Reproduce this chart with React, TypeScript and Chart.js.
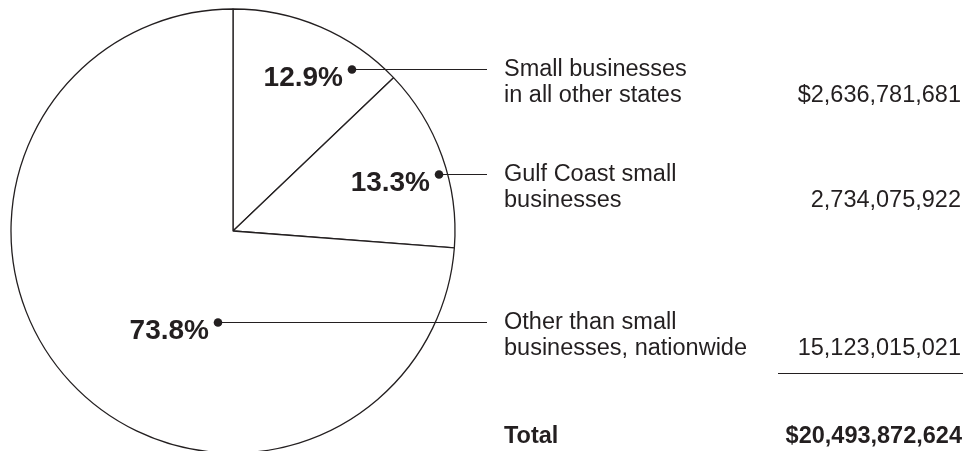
import React, { useEffect, useRef } from "react";
import { Chart, registerables } from "chart.js";

Chart.register(...registerables);

// ---- data ----
const categories = [
  "Small businesses in all other states",
  "Gulf Coast small businesses",
  "Other than small businesses, nationwide",
];
const labelLines = [
  ["Small businesses", "in all other states"],
  ["Gulf Coast small", "businesses"],
  ["Other than small", "businesses, nationwide"],
];
const amounts = [2636781681, 2734075922, 15123015021];
const totalLabel = "Total";

// ---- label anchors (fraction of slice angle, fraction of radius) ----
const anchors = [
  { t: 0.784, r: 0.905 },
  { t: 0.587, r: 0.963 },
  { t: 0.3577, r: 0.415 },
];

const INK = "#231f20";
const FONT = '"Liberation Sans", Arial, Helvetica, sans-serif';
const LEADER_END = 487;
const TEXT_X = 504;
const AMOUNT_RIGHT = 961;

const fmt = (n: number) => n.toLocaleString("en-US");

const labelPlugin = {
  id: "sliceLabels",
  afterDatasetsDraw(chart: any) {
    const ctx = chart.ctx as CanvasRenderingContext2D;
    const meta = chart.getDatasetMeta(0);
    const total = amounts.reduce((a, b) => a + b, 0);
    ctx.save();
    ctx.fillStyle = INK;
    ctx.strokeStyle = INK;
    ctx.lineWidth = 1;
    ctx.textBaseline = "alphabetic";
    let lastY = 0;
    meta.data.forEach((arc: any, i: number) => {
      const p = arc.getProps(["x", "y", "startAngle", "endAngle", "outerRadius"], true);
      const a = p.startAngle + (p.endAngle - p.startAngle) * anchors[i].t;
      const r = p.outerRadius * anchors[i].r;
      const dx = p.x + Math.cos(a) * r;
      const dy = Math.round(p.y + Math.sin(a) * r);
      lastY = dy;
      // leader line
      ctx.beginPath();
      ctx.moveTo(dx, dy + 0.5);
      ctx.lineTo(LEADER_END, dy + 0.5);
      ctx.stroke();
      // dot
      ctx.beginPath();
      ctx.arc(dx, dy + 0.5, 4.3, 0, Math.PI * 2);
      ctx.fill();
      // percentage
      const pct = ((amounts[i] / total) * 100).toFixed(1) + "%";
      ctx.font = `bold 28px ${FONT}`;
      ctx.textAlign = "right";
      ctx.fillText(pct, dx - 9, dy + 17);
      // category label
      ctx.font = `23.5px ${FONT}`;
      ctx.textAlign = "left";
      labelLines[i].forEach((line, k) => {
        ctx.fillText(line, TEXT_X, dy + 7 + k * 26);
      });
      // amount
      ctx.textAlign = "right";
      const amt = (i === 0 ? "$" : "") + fmt(amounts[i]);
      ctx.fillText(amt, AMOUNT_RIGHT, dy + 33);
    });
    // separator and total
    const sepY = lastY + 51;
    ctx.beginPath();
    ctx.moveTo(778, sepY + 0.5);
    ctx.lineTo(963, sepY + 0.5);
    ctx.stroke();
    ctx.font = `bold 23.5px ${FONT}`;
    ctx.textAlign = "left";
    ctx.fillText(totalLabel, TEXT_X, sepY + 70);
    ctx.textAlign = "right";
    ctx.fillText("$" + fmt(total), AMOUNT_RIGHT + 1, sepY + 70);
    ctx.restore();
  },
};

export default function App() {
  const ref = useRef<HTMLCanvasElement | null>(null);
  useEffect(() => {
    if (!ref.current) return;
    const chart = new Chart(ref.current, {
      type: "pie",
      data: {
        labels: categories,
        datasets: [
          {
            data: amounts,
            backgroundColor: "#ffffff",
            borderColor: INK,
            borderWidth: 1.3,
            hoverOffset: 0,
            offset: 0,
            clip: false as any,
          },
        ],
      },
      options: {
        animation: false,
        responsive: false,
        events: [],
        radius: 222,
        rotation: 0,
        layout: { padding: { left: 0, right: 511, top: 11, bottom: 0 } },
        plugins: {
          legend: { display: false },
          tooltip: { enabled: false },
        },
      } as any,
      plugins: [labelPlugin],
    });
    return () => chart.destroy();
  }, []);
  return (
    <div style={{ position: "absolute", left: 0, top: 0, width: 977, height: 451, background: "#fff", overflow: "hidden" }}>
      <canvas ref={ref} width={977} height={451} style={{ display: "block", width: 977, height: 451 }} />
    </div>
  );
}
